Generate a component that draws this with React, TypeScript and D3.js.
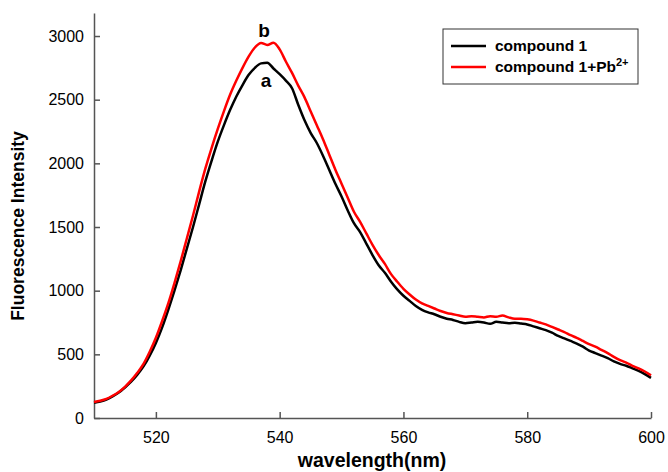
import React, { useEffect, useRef } from 'react';
import * as d3 from 'd3';

// wavelength (nm), 1 nm steps
const wavelengths = d3.range(510, 601);

// compound 1 (curve a)
const compound1 = [
  120, 130, 145, 170, 200, 240, 285, 340, 405, 490,
  590, 710, 850, 1000, 1160, 1330, 1500, 1680, 1860, 2020,
  2170, 2300, 2420, 2525, 2615, 2695, 2750, 2785, 2790, 2745,
  2700, 2650, 2590, 2460, 2340, 2240, 2160, 2060, 1950, 1840,
  1740, 1630, 1530, 1460, 1370, 1280, 1200, 1140, 1070, 1010,
  960, 920, 880, 850, 830, 815, 795, 780, 770, 755,
  745, 750, 755, 750, 740, 755, 750, 745, 748, 742,
  735, 720, 705, 690, 670, 645, 625, 605, 585, 560,
  530, 510, 490, 470, 445, 425, 410, 390, 370, 345,
  315,
];

// compound 1 + Pb2+ (curve b)
const compound1Pb = [
  125, 135, 150, 175, 205, 245, 295, 355, 425, 520,
  630, 760, 900, 1060, 1230, 1410, 1590, 1780, 1960, 2120,
  2270, 2410, 2540, 2650, 2750, 2840, 2910, 2945, 2930, 2948,
  2895, 2800, 2710, 2610, 2520, 2410, 2300, 2190, 2070, 1950,
  1840, 1730, 1620, 1540, 1450, 1360, 1280, 1210, 1130, 1070,
  1015, 970, 930, 900, 880, 860, 840, 825, 815, 805,
  795, 800, 795, 790, 800, 795, 805, 790, 780, 780,
  775, 765, 750, 735, 715, 695, 675, 650, 630, 605,
  580, 560, 535, 510, 480, 455, 435, 410, 390, 365,
  335,
];

const xTicks = [520, 540, 560, 580, 600];
const yTicks = [0, 500, 1000, 1500, 2000, 2500, 3000];

export default function App() {
  const ref = useRef<SVGSVGElement>(null);

  useEffect(() => {
    const svg = d3.select(ref.current);
    svg.selectAll('*').remove();

    const font = 'Liberation Sans, Arial, sans-serif';
    const axisColor = '#555';

    const x = d3.scaleLinear().domain([510, 600]).range([94, 651]);
    const y = d3.scaleLinear().domain([0, 3180]).range([418, 13.1]);

    // x axis, ticks pointing inward
    const gx = svg.append('g')
      .attr('transform', `translate(0,${y(0)})`)
      .call(d3.axisBottom(x).tickValues(xTicks).tickFormat(d3.format('d'))
        .tickSizeInner(-6).tickSizeOuter(0).tickPadding(14));
    gx.select('.domain').attr('stroke', axisColor).attr('stroke-width', 1.5);
    gx.selectAll('.tick line').attr('stroke', axisColor).attr('stroke-width', 1.5);
    gx.selectAll('.tick text')
      .attr('font-family', font).attr('font-size', 16).attr('fill', '#000');

    // y axis
    const gy = svg.append('g')
      .attr('transform', `translate(${x(510)},0)`)
      .call(d3.axisLeft(y).tickValues(yTicks).tickFormat(d3.format('d'))
        .tickSizeInner(-6).tickSizeOuter(0).tickPadding(10));
    gy.select('.domain').attr('stroke', axisColor).attr('stroke-width', 1.5);
    gy.selectAll('.tick line').attr('stroke', axisColor).attr('stroke-width', 1.5);
    gy.selectAll('.tick text')
      .attr('font-family', font).attr('font-size', 16).attr('fill', '#000');

    // axis titles
    svg.append('text')
      .attr('x', 372).attr('y', 467)
      .attr('text-anchor', 'middle')
      .attr('font-family', font).attr('font-weight', 'bold').attr('font-size', 19.5)
      .text('wavelength(nm)');

    svg.append('text')
      .attr('transform', 'translate(24,226) rotate(-90)')
      .attr('text-anchor', 'middle')
      .attr('font-family', font).attr('font-weight', 'bold').attr('font-size', 17.5)
      .text('Fluorescence Intensity');

    // curves
    const line = d3.line<number>()
      .x((d, i) => x(wavelengths[i]))
      .y(d => y(d))
      .curve(d3.curveMonotoneX);

    svg.append('path')
      .datum(compound1)
      .attr('fill', 'none')
      .attr('stroke', '#000')
      .attr('stroke-width', 2.5)
      .attr('d', line);

    svg.append('path')
      .datum(compound1Pb)
      .attr('fill', 'none')
      .attr('stroke', '#ff0000')
      .attr('stroke-width', 2.5)
      .attr('d', line);

    // curve labels
    svg.append('text')
      .attr('x', 264).attr('y', 37)
      .attr('text-anchor', 'middle')
      .attr('font-family', font).attr('font-weight', 'bold').attr('font-size', 19)
      .text('b');
    svg.append('text')
      .attr('x', 266).attr('y', 87)
      .attr('text-anchor', 'middle')
      .attr('font-family', font).attr('font-weight', 'bold').attr('font-size', 19)
      .text('a');

    // legend
    const legend = svg.append('g');
    legend.append('rect')
      .attr('x', 443).attr('y', 29).attr('width', 195).attr('height', 55)
      .attr('fill', '#fff').attr('stroke', '#333').attr('stroke-width', 1);

    const items = [
      { color: '#000', label: 'compound 1', sup: '' },
      { color: '#ff0000', label: 'compound 1+Pb', sup: '2+' },
    ];
    items.forEach((it, i) => {
      const cy = 46 + i * 21;
      legend.append('line')
        .attr('x1', 451).attr('x2', 486).attr('y1', cy).attr('y2', cy)
        .attr('stroke', it.color).attr('stroke-width', 2.5);
      const t = legend.append('text')
        .attr('x', 495).attr('y', cy + 5)
        .attr('font-family', font).attr('font-weight', 'bold').attr('font-size', 15.5)
        .text(it.label);
      if (it.sup) {
        t.append('tspan').attr('dy', -6).attr('font-size', 11).text(it.sup);
      }
    });
  }, []);

  return (
    <svg ref={ref} width={668} height={472}
      style={{ position: 'absolute', left: 0, top: 0, background: '#fff' }} />
  );
}
